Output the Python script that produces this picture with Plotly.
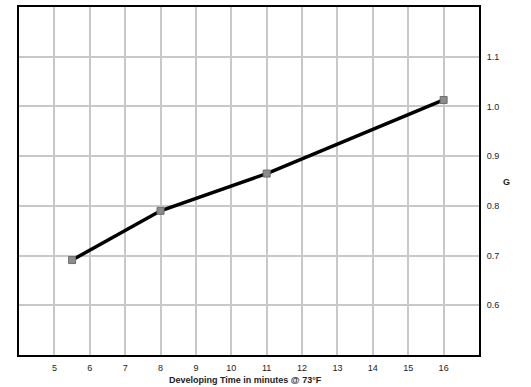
import plotly.graph_objects as go

dev_time = [5.5, 8, 11, 16]
gamma = [0.691, 0.79, 0.865, 1.013]
x_ticks = list(range(5, 17))
y_ticks = [0.6, 0.7, 0.8, 0.9, 1.0, 1.1]

fig = go.Figure()
fig.add_trace(go.Scatter(
    x=dev_time, y=gamma, mode="lines+markers",
    line=dict(color="black", width=3.5),
    marker=dict(symbol="square", size=7, color="#8c8c8c", line=dict(color="#6e6e6e", width=1)),
    showlegend=False,
))

font = dict(family="Liberation Sans, Arial, sans-serif", size=9, color="#222")
fig.update_layout(
    width=531, height=387,
    margin=dict(l=19, r=52, t=7, b=32, autoexpand=False),
    paper_bgcolor="white", plot_bgcolor="white",
    font=font,
)
fig.update_xaxes(
    range=[4, 17], tickvals=x_ticks, ticktext=[str(v) for v in x_ticks],
    showgrid=True, gridcolor="#c8c8c8", gridwidth=1.5,
    showline=True, linecolor="black", linewidth=2, mirror=True,
    ticks="outside", ticklen=3, tickcolor="white", zeroline=False, automargin=False,
)
fig.update_yaxes(
    range=[0.5, 1.2], tickvals=y_ticks, ticktext=[f"{v:.1f}" for v in y_ticks],
    side="right",
    showgrid=True, gridcolor="#c8c8c8", gridwidth=1.5,
    showline=True, linecolor="black", linewidth=2, mirror=True,
    ticks="outside", ticklen=4, tickcolor="white", zeroline=False, automargin=False,
)
fig.add_annotation(
    text="<b>Developing Time in minutes @ 73°F</b>", xref="paper", yref="paper",
    x=0.4924, y=0, xanchor="center", yanchor="top", yshift=-18, showarrow=False,
    font=dict(size=9, color="#222"),
)
fig.add_annotation(
    text="<b>G</b>", xref="paper", yref="paper",
    x=1.0587, y=0.497, xanchor="center", yanchor="middle", showarrow=False,
    font=dict(size=9, color="#222"),
)
fig.write_html(
    "out.html",
    config={"displayModeBar": False},
    post_script="document.body.style.margin='0';document.body.style.overflow='hidden';",
)
